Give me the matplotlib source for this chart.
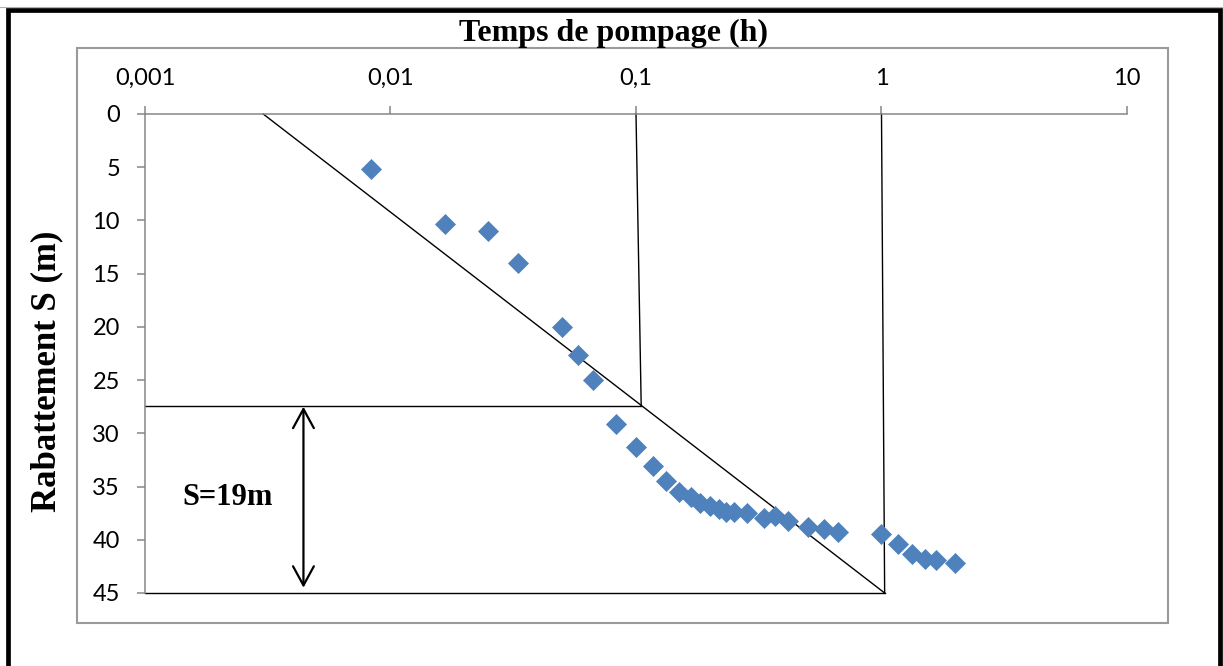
import matplotlib.pyplot as plt
from matplotlib.patches import Rectangle, FancyArrowPatch
from matplotlib.lines import Line2D

# pumping time (h) and drawdown (m)
temps = [0.0083, 0.0167, 0.025, 0.033, 0.05, 0.058, 0.067, 0.083, 0.1, 0.117,
         0.133, 0.15, 0.167, 0.183, 0.2, 0.217, 0.233, 0.25, 0.283, 0.333,
         0.367, 0.417, 0.5, 0.583, 0.667, 1.0, 1.167, 1.333, 1.5, 1.667, 2.0]
rabattement = [5.2, 10.3, 11.0, 14.0, 20.0, 22.6, 25.0, 29.1, 31.3, 33.1,
               34.5, 35.5, 36.0, 36.5, 36.8, 37.1, 37.4, 37.4, 37.5, 38.0,
               37.8, 38.2, 38.8, 39.0, 39.3, 39.5, 40.4, 41.3, 41.8, 41.9, 42.2]

x_ticks = [0.001, 0.01, 0.1, 1, 10]
x_labels = ['0,001', '0,01', '0,1', '1', '10']
y_ticks = [0, 5, 10, 15, 20, 25, 30, 35, 40, 45]

# Jacob straight line and construction lines
droite_t = [0.00303, 1.03]
droite_s = [0, 45]
s_lu = 27.4
t_cycle = 0.105

fig = plt.figure(figsize=(12.23, 6.66), dpi=100)
ax = fig.add_axes([0.11856, 0.10961, 0.80294, 0.71922])

gris = '#868686'
ax.set_xscale('log')
ax.set_xlim(0.001, 10)
ax.set_ylim(45, 0)
ax.xaxis.tick_top()
ax.set_xticks(x_ticks)
ax.set_xticklabels(x_labels)
ax.minorticks_off()
ax.set_yticks(y_ticks)
ax.set_yticklabels([str(v) for v in y_ticks])
for side in ['bottom', 'right']:
    ax.spines[side].set_visible(False)
for side in ['top', 'left']:
    ax.spines[side].set_color(gris)
    ax.spines[side].set_linewidth(1.1)
ax.tick_params(axis='both', colors=gris, length=6, width=1.1, labelcolor='black',
               labelsize=17, pad=12)
for lab in ax.get_xticklabels() + ax.get_yticklabels():
    lab.set_family('Lato')

ax.scatter(temps, rabattement, marker='D', s=115, color='#4F81BD',
           linewidths=0, zorder=3, clip_on=False)

lw = 1.0
ax.plot(droite_t, droite_s, color='black', lw=lw, clip_on=False)
ax.plot([0.1, t_cycle], [0, s_lu], color='black', lw=lw, clip_on=False)
ax.plot([0.001, t_cycle], [s_lu, s_lu], color='black', lw=lw, clip_on=False)
ax.plot([1.0, 1.03], [0, 45], color='black', lw=lw, clip_on=False)
ax.plot([0.001, 1.03], [45, 45], color='black', lw=lw, clip_on=False)

fleche = FancyArrowPatch((0.00442, s_lu + 0.1), (0.00442, 44.5),
                         arrowstyle='<->,head_length=0.55,head_width=0.3',
                         mutation_scale=25, color='black', lw=1.6,
                         shrinkA=0, shrinkB=0)
ax.add_patch(fleche)
ax.text(0.00216, 36.0, 'S=19m', fontsize=22, fontweight='bold',
        family='Liberation Serif', ha='center', va='center')

fig.text(0.502, 1 - 41 / 666, 'Temps de pompage (h)', fontsize=23,
         fontweight='bold', family='Liberation Serif', ha='center', va='baseline')
fig.text(47 / 1223, 1 - 371 / 666, 'Rabattement S (m)', fontsize=25,
         fontweight='bold', family='Liberation Serif', rotation=90,
         ha='center', va='center')

# chart area frame and outer border
W, H = 1223, 666
fig.patches.append(Rectangle((77 / W, 1 - 623 / H), (1168 - 77) / W, (623 - 48) / H,
                             transform=fig.transFigure, fill=False,
                             edgecolor='#9a9a9a', lw=1.5))
fig.patches.append(Rectangle((7.5 / W, -0.05), (1220 - 7.5) / W, 1.05 - 10.5 / H,
                             transform=fig.transFigure, fill=False,
                             edgecolor='black', lw=3.4))
fig.lines.append(Line2D([0, 1], [1 - 7 / H, 1 - 7 / H], transform=fig.transFigure,
                        color='#b0b0b0', lw=0.8))

fig.savefig('out.png', dpi=100)
